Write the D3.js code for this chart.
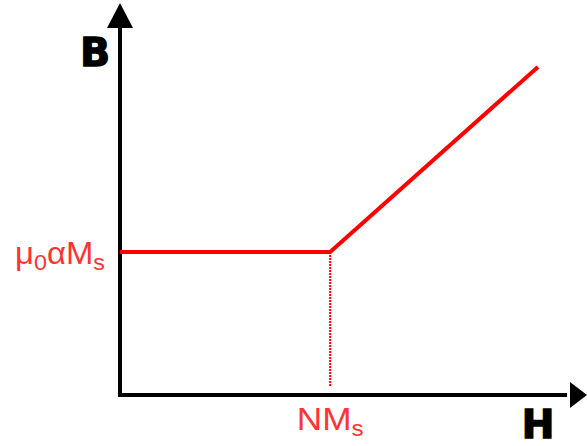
<!DOCTYPE html>
<html lang="en">
<head>
<meta charset="UTF-8"/>
<title>B-H curve</title>
<script src="https://d3js.org/d3.v7.min.js"></script>
<style>
  body { margin: 0; background: #fff; }
  .axis-line { stroke: #000; stroke-width: 4; fill: none; }
  .curve { stroke: #f00; stroke-width: 4; fill: none; stroke-linejoin: round; }
  .guide { stroke: #f00; stroke-width: 2; stroke-dasharray: 2 1; }
  .lbl { fill: #f33; font-family: "Liberation Sans", Arial, sans-serif; }
  .axname { fill: #000; stroke: #000; stroke-width: 1.5; font-family: "DejaVu Sans", sans-serif; font-weight: bold; }
</style>
</head>
<body>
<div id="chart"></div>
<script>
// curve points (H, B) in arbitrary units 0..100
var hVals = [0, 45, 89.5];
var bVals = [36.5, 36.5, 83.7];
var kneeH = 45, kneeB = 36.5;

var w = 587, h = 446;

var xScale = d3.scaleLinear().domain([0, 100]).range([120, 587]);
var yScale = d3.scaleLinear().domain([0, 100]).range([395, 3]);

var svg = d3.select("#chart").append("svg")
  .attr("width", w).attr("height", h);

// axes
svg.append("line").attr("class", "axis-line")
  .attr("x1", xScale(0)).attr("y1", yScale(0) + 2)
  .attr("x2", xScale(0)).attr("y2", yScale(100) + 20);
svg.append("line").attr("class", "axis-line")
  .attr("x1", xScale(0) - 2).attr("y1", yScale(0))
  .attr("x2", xScale(100) - 20).attr("y2", yScale(0));

// arrow heads
svg.append("path")
  .attr("d", "M" + xScale(0) + "," + yScale(100) +
    " L" + (xScale(0) + 13) + "," + (yScale(100) + 25) +
    " L" + (xScale(0) - 13) + "," + (yScale(100) + 25) + " Z")
  .attr("fill", "#000");
svg.append("path")
  .attr("d", "M" + xScale(100) + "," + yScale(0) +
    " L" + (xScale(100) - 17) + "," + (yScale(0) - 13) +
    " L" + (xScale(100) - 17) + "," + (yScale(0) + 13) + " Z")
  .attr("fill", "#000");

// dotted guide
svg.append("line").attr("class", "guide")
  .attr("x1", xScale(kneeH)).attr("y1", yScale(kneeB))
  .attr("x2", xScale(kneeH)).attr("y2", yScale(0) - 8);

// curve
var line = d3.line()
  .x(function(d, i) { return xScale(hVals[i]); })
  .y(function(d, i) { return yScale(bVals[i]); });
svg.append("path").attr("class", "curve")
  .attr("d", line(hVals));

// labels
var yl = svg.append("text").attr("class", "lbl")
  .attr("font-size", 31)
  .attr("text-anchor", "end")
  .attr("transform", "translate(" + (xScale(0) - 15) + "," + (yScale(kneeB) + 12) + ") scale(1.06,1)");
yl.append("tspan").text("μ");
yl.append("tspan").attr("font-size", 22).attr("dy", 6).text("0");
yl.append("tspan").attr("dy", -6).text("αM");
yl.append("tspan").attr("font-size", 22).attr("dy", 6).text("s");

var xl = svg.append("text").attr("class", "lbl")
  .attr("font-size", 32)
  .attr("text-anchor", "middle")
  .attr("transform", "translate(" + xScale(kneeH) + "," + (yScale(0) + 35) + ") scale(1.1,1)");
xl.append("tspan").text("NM");
xl.append("tspan").attr("font-size", 22).attr("dy", 6).text("s");

svg.append("text").attr("class", "axname")
  .attr("x", 95).attr("y", 66).attr("font-size", 39)
  .attr("text-anchor", "middle").text("B");
svg.append("text").attr("class", "axname")
  .attr("x", 538).attr("y", 438).attr("font-size", 39)
  .attr("text-anchor", "middle").text("H");
</script>
</body>
</html>
